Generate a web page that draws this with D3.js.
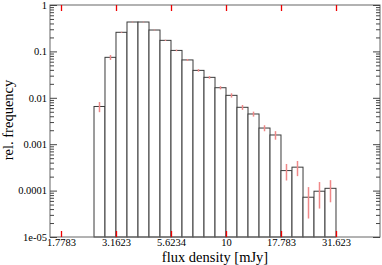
<!DOCTYPE html>
<html>
<head>
<meta charset="utf-8">
<script src="https://cdn.jsdelivr.net/npm/d3@7"></script>
<style>
  body { margin: 0; background: #fff; }
  svg { display: block; font-family: "Liberation Serif", "Times New Roman", serif; }
</style>
</head>
<body>
<div id="chart"></div>
<script>
// bin edges in mJy (0.05 dex wide, from 10^0.40 to 10^1.50)
const binEdges = [2.512, 2.818, 3.162, 3.548, 3.981, 4.467, 5.012, 5.623, 6.310, 7.079, 7.943,
                  8.913, 10.0, 11.22, 12.59, 14.13, 15.85, 17.78, 19.95, 22.39, 25.12, 28.18, 31.62];

// relative frequency per bin
const freq = [0.0065, 0.0745, 0.258, 0.43, 0.43, 0.289, 0.173, 0.105, 0.0655, 0.039, 0.0276,
              0.0165, 0.0113, 0.00624, 0.00448, 0.00223, 0.00158, 0.00027, 0.00032, 0.000072,
              0.000097, 0.000112];

// error on each bin
const freqErr = [0.0016, 0.009, 0.006, 0.008, 0.008, 0.006, 0.005, 0.004, 0.003, 0.0025, 0.0018,
                 0.0013, 0.0012, 0.00075, 0.00055, 0.00033, 0.00033, 0.000105, 0.000115, 0.000047,
                 0.000056, 0.000056];

const xTicks = [1.7783, 3.1623, 5.6234, 10, 17.783, 31.623];
const xTickLabels = ["1.7783", "3.1623", "5.6234", "10", "17.783", "31.623"];
const yTicks = [1e-5, 1e-4, 1e-3, 1e-2, 1e-1, 1];
const yTickLabels = ["1e-05", "0.0001", "0.001", "0.01", "0.1", "1"];

const width = 382, height = 265;
const plot = { left: 50, right: 380, top: 5, bottom: 237 };

const svg = d3.select("#chart").append("svg")
    .attr("width", width)
    .attr("height", height);

const x = d3.scaleLog()
    .domain([Math.pow(10, 0.2), Math.pow(10, 1.7)])
    .range([plot.left, plot.right]);

const y = d3.scaleLog()
    .domain([1e-5, 1])
    .range([plot.bottom, plot.top]);

const bins = freq.map((v, i) => ({ lo: binEdges[i], hi: binEdges[i + 1], v: v, e: freqErr[i] }));

// bars
svg.append("g").selectAll("rect")
    .data(bins)
    .enter().append("rect")
    .attr("x", d => x(d.lo))
    .attr("y", d => y(d.v))
    .attr("width", d => x(d.hi) - x(d.lo))
    .attr("height", d => y(1e-5) - y(d.v))
    .attr("fill", "#fff")
    .attr("stroke", "#3a3a3a")
    .attr("stroke-width", 1);

// error bars
svg.append("g").selectAll("line")
    .data(bins)
    .enter().append("line")
    .attr("x1", d => x(Math.sqrt(d.lo * d.hi)))
    .attr("x2", d => x(Math.sqrt(d.lo * d.hi)))
    .attr("y1", d => y(d.v + d.e))
    .attr("y2", d => y(Math.max(d.v - d.e, 1e-5)))
    .attr("stroke", "#f08888")
    .attr("stroke-width", 1.5);

// frame
svg.append("rect")
    .attr("x", plot.left)
    .attr("y", plot.top)
    .attr("width", plot.right - plot.left)
    .attr("height", plot.bottom - plot.top)
    .attr("fill", "none")
    .attr("stroke", "#666")
    .attr("stroke-width", 1);

// x axes (red inward ticks)
const xBottom = svg.append("g")
    .attr("transform", `translate(0,${plot.bottom})`)
    .call(d3.axisBottom(x).tickValues(xTicks)
        .tickFormat((d, i) => xTickLabels[i])
        .tickSizeInner(-6).tickSizeOuter(0).tickPadding(2));

const xTop = svg.append("g")
    .attr("transform", `translate(0,${plot.top})`)
    .call(d3.axisTop(x).tickValues(xTicks)
        .tickFormat("")
        .tickSizeInner(-6).tickSizeOuter(0));

[xBottom, xTop].forEach(g => {
    g.select(".domain").remove();
    g.selectAll(".tick line").attr("stroke", "#e00").attr("stroke-width", 1.3);
});
xBottom.selectAll("text")
    .attr("font-family", "Liberation Serif")
    .attr("font-size", "10.5px")
    .attr("fill", "#000");

// y axes: minor ticks then major ticks
const minor = y.ticks().filter(t => yTicks.indexOf(t) < 0);

const yLeftMinor = svg.append("g")
    .attr("transform", `translate(${plot.left},0)`)
    .call(d3.axisLeft(y).tickValues(minor).tickFormat("").tickSizeInner(-4).tickSizeOuter(0));

const yRightMinor = svg.append("g")
    .attr("transform", `translate(${plot.right},0)`)
    .call(d3.axisRight(y).tickValues(minor).tickFormat("").tickSizeInner(-4).tickSizeOuter(0));

const yLeft = svg.append("g")
    .attr("transform", `translate(${plot.left},0)`)
    .call(d3.axisLeft(y).tickValues(yTicks)
        .tickFormat((d, i) => yTickLabels[i])
        .tickSizeInner(-7).tickSizeOuter(0).tickPadding(3));

const yRight = svg.append("g")
    .attr("transform", `translate(${plot.right},0)`)
    .call(d3.axisRight(y).tickValues(yTicks).tickFormat("").tickSizeInner(-7).tickSizeOuter(0));

[yLeftMinor, yRightMinor, yLeft, yRight].forEach(g => {
    g.select(".domain").remove();
    g.selectAll(".tick line").attr("stroke", "#444");
});
yLeft.selectAll("text")
    .attr("font-family", "Liberation Serif")
    .attr("font-size", "10.5px")
    .attr("fill", "#000");

// axis titles
svg.append("text")
    .attr("x", (plot.left + plot.right) / 2)
    .attr("y", 262)
    .attr("text-anchor", "middle")
    .attr("font-size", "14.5px")
    .text("flux density [mJy]");

svg.append("text")
    .attr("transform", "translate(13,120) rotate(-90)")
    .attr("text-anchor", "middle")
    .attr("font-size", "14.5px")
    .text("rel. frequency");
</script>
</body>
</html>
